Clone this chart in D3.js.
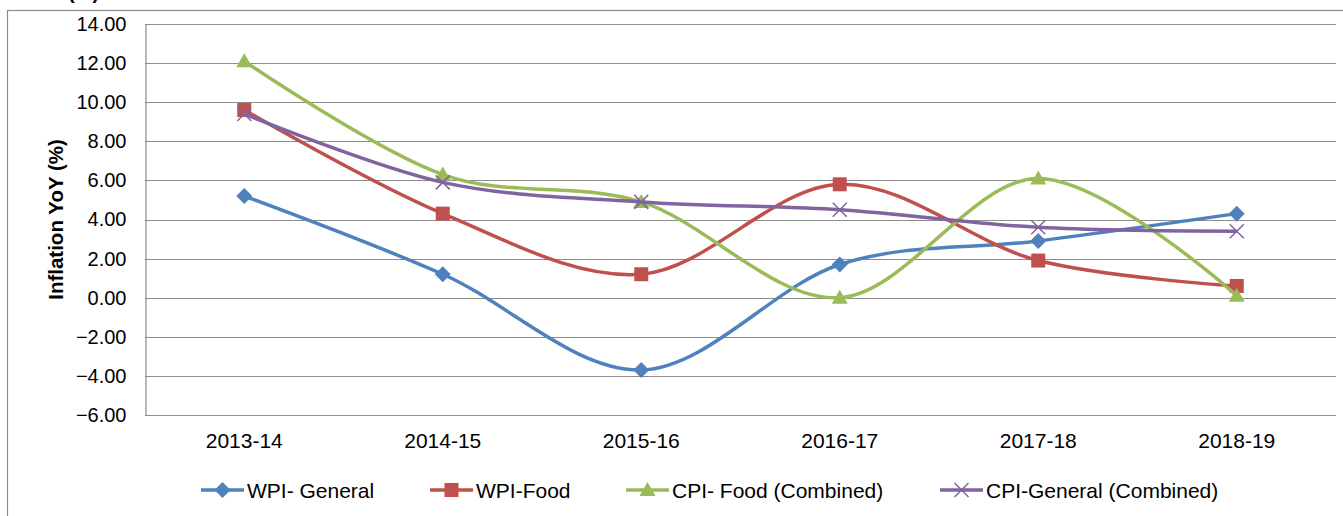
<!DOCTYPE html>
<html lang="en">
<head>
<meta charset="UTF-8">
<title>Inflation YoY</title>
<script src="https://d3js.org/d3.v7.min.js"></script>
<style>
    body { margin: 0; background: #fff; font-family: "Liberation Sans", Arial, sans-serif; }
    #chart { width: 1343px; height: 516px; }
</style>
</head>
<body>
<div id="chart"></div>
<script>
    const years = ["2013-14", "2014-15", "2015-16", "2016-17", "2017-18", "2018-19"];
    const wpiGeneral = [5.2, 1.2, -3.7, 1.7, 2.9, 4.3];
    const wpiFood = [9.6, 4.3, 1.2, 5.8, 1.9, 0.6];
    const cpiFood = [12.1, 6.3, 4.9, 0.0, 6.1, 0.1];
    const cpiGeneral = [9.4, 5.9, 4.9, 4.5, 3.6, 3.4];
    const yTicks = [-6, -4, -2, 0, 2, 4, 6, 8, 10, 12, 14];

    const series = [
        { name: "WPI- General", values: wpiGeneral, color: "#4f81bd", marker: "diamond" },
        { name: "WPI-Food", values: wpiFood, color: "#c0504d", marker: "square" },
        { name: "CPI- Food (Combined)", values: cpiFood, color: "#9bbb59", marker: "triangle" },
        { name: "CPI-General (Combined)", values: cpiGeneral, color: "#8064a2", marker: "cross" }
    ];

    const width = 1343, height = 516;
    const plot = { left: 145, right: 1336, top: 24, bottom: 415 };

    const svg = d3.select("#chart").append("svg")
        .attr("width", width)
        .attr("height", height);

    // outer chart frame (runs off the right and bottom edges)
    svg.append("rect")
        .attr("x", 7.5).attr("y", 10.5)
        .attr("width", 1360).attr("height", 540)
        .attr("fill", "none")
        .attr("stroke", "#8c8c8c")
        .attr("stroke-width", 1.2);

    // bottom of a title above the frame, mostly out of view
    svg.append("text")
        .attr("x", 68).attr("y", -1)
        .style("font-size", "20px")
        .style("font-weight", "bold")
        .text("(%)");

    const x = d3.scaleBand().domain(years).range([plot.left, plot.right]);
    const y = d3.scaleLinear().domain([-6, 14]).range([plot.bottom, plot.top]);

    // gridlines
    svg.append("g")
        .selectAll("line")
        .data(yTicks)
        .enter().append("line")
        .attr("x1", plot.left).attr("x2", plot.right)
        .attr("y1", d => Math.round(y(d)) + 0.5)
        .attr("y2", d => Math.round(y(d)) + 0.5)
        .attr("stroke", "#8c8c8c")
        .attr("stroke-width", 1.2);

    // y axis
    const yAxis = svg.append("g")
        .attr("transform", `translate(${plot.left + 0.5},0)`)
        .call(d3.axisLeft(y).tickValues(yTicks).tickSize(0).tickPadding(19).tickFormat(d3.format(".2f")));
    yAxis.select(".domain").attr("stroke", "#8c8c8c").attr("stroke-width", 1.2);
    yAxis.selectAll("text")
        .attr("fill", "#000")
        .style("font-size", "20px")
        .style("font-family", "'Liberation Sans', Arial, sans-serif");

    // x axis labels
    const xAxis = svg.append("g")
        .attr("transform", `translate(0,${plot.bottom})`)
        .call(d3.axisBottom(x).tickSize(0).tickPadding(18));
    xAxis.select(".domain").remove();
    xAxis.selectAll("text")
        .attr("fill", "#000")
        .style("font-size", "21px")
        .style("font-family", "'Liberation Sans', Arial, sans-serif");

    // y axis title
    svg.append("text")
        .attr("transform", `translate(63,${(plot.top + plot.bottom) / 2}) rotate(-90)`)
        .attr("text-anchor", "middle")
        .style("font-size", "20.5px")
        .style("font-weight", "bold")
        .text("Inflation YoY (%)");

    const cx = d => x(d) + x.bandwidth() / 2;

    // Excel-style smoothed line
    const line = d3.line()
        .x((d, i) => cx(years[i]))
        .y(d => y(d))
        .curve(d3.curveCardinal.tension(0));

    function drawMarker(g, type, color, px, py) {
        if (type === "diamond") {
            g.append("path")
                .attr("d", `M${px},${py - 8}L${px + 8},${py}L${px},${py + 8}L${px - 8},${py}Z`)
                .attr("fill", color);
        } else if (type === "square") {
            g.append("rect")
                .attr("x", px - 7).attr("y", py - 7)
                .attr("width", 14).attr("height", 14)
                .attr("fill", color);
        } else if (type === "triangle") {
            g.append("path")
                .attr("d", `M${px},${py - 8}L${px + 8},${py + 6}L${px - 8},${py + 6}Z`)
                .attr("fill", color);
        } else {
            g.append("path")
                .attr("d", `M${px - 7},${py - 7}L${px + 7},${py + 7}M${px + 7},${py - 7}L${px - 7},${py + 7}`)
                .attr("stroke", color)
                .attr("stroke-width", 1.5)
                .attr("fill", "none");
        }
    }

    series.forEach(s => {
        const g = svg.append("g");
        g.append("path")
            .datum(s.values)
            .attr("d", line)
            .attr("fill", "none")
            .attr("stroke", s.color)
            .attr("stroke-width", 3.5)
            .attr("stroke-linejoin", "round");
        s.values.forEach((v, i) => drawMarker(g, s.marker, s.color, cx(years[i]), y(v)));
    });

    // legend
    const legendX = [201, 430, 626, 940];
    const legendY = 490;
    series.forEach((s, i) => {
        const g = svg.append("g");
        g.append("line")
            .attr("x1", legendX[i]).attr("x2", legendX[i] + 43)
            .attr("y1", legendY).attr("y2", legendY)
            .attr("stroke", s.color)
            .attr("stroke-width", 3.5);
        drawMarker(g, s.marker, s.color, legendX[i] + 21.5, legendY);
        g.append("text")
            .attr("x", legendX[i] + 46)
            .attr("y", legendY + 7.5)
            .style("font-size", "21px")
            .text(s.name);
    });
</script>
</body>
</html>
